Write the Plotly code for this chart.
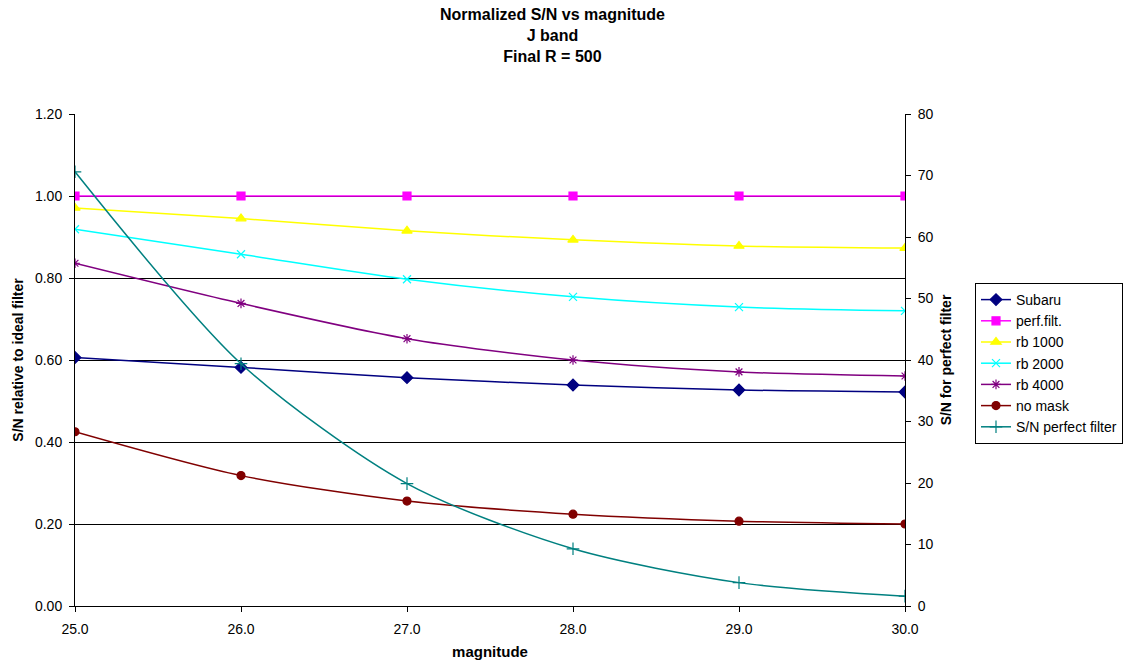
import plotly.graph_objects as go

magnitude = [25.0, 26.0, 27.0, 28.0, 29.0, 30.0]
subaru = [0.606, 0.582, 0.557, 0.539, 0.527, 0.522]
perf_filt = [1.0, 1.0, 1.0, 1.0, 1.0, 1.0]
rb1000 = [0.971, 0.945, 0.915, 0.893, 0.878, 0.873]
rb2000 = [0.919, 0.858, 0.797, 0.754, 0.729, 0.720]
rb4000 = [0.836, 0.738, 0.652, 0.600, 0.571, 0.561]
no_mask = [0.425, 0.318, 0.256, 0.224, 0.207, 0.200]
sn_perfect = [70.6, 39.4, 19.9, 9.3, 3.8, 1.6]

title_lines = ["Normalized S/N vs magnitude", "J band", "Final R = 500"]

FONT = "Liberation Sans, Arial, sans-serif"

series = [
    ("Subaru", subaru, "#000080", "diamond", 9, "y"),
    ("perf.filt.", perf_filt, "#FF00FF", "square", 8, "y"),
    ("rb 1000", rb1000, "#FFFF00", "triangle-up", 9, "y"),
    ("rb 2000", rb2000, "#00FFFF", "x-thin-open", 8, "y"),
    ("rb 4000", rb4000, "#800080", "asterisk-open", 8, "y"),
    ("no mask", no_mask, "#800000", "circle", 8, "y"),
    ("S/N perfect filter", sn_perfect, "#008080", "cross-thin-open", 9, "y2"),
]

fig = go.Figure()
for name, vals, color, sym, size, ax in series:
    fig.add_trace(go.Scatter(
        x=magnitude, y=vals, name=name, yaxis=ax,
        mode="lines+markers",
        line=dict(color=color, width=1.5, shape="spline", smoothing=0.8),
        marker=dict(symbol=sym, size=size, color=color,
                    line=dict(color=color, width=1.2)),
    ))

fig.add_annotation(
    text="<b>" + "<br>".join(title_lines) + "</b>",
    xref="paper", yref="paper", x=(552 - 75) / 830, y=(606 - 4) / 492,
    xanchor="center", yanchor="top", showarrow=False, align="center",
    font=dict(family=FONT, size=16, color="black"),
)

fig.update_layout(
    width=1127, height=668,
    margin=dict(l=75, r=222, t=114, b=62, autoexpand=False),
    paper_bgcolor="white", plot_bgcolor="white",
    font=dict(family=FONT, size=14, color="black"),
    xaxis=dict(
        range=[25, 30], tickvals=magnitude, tickformat=".1f",
        showgrid=False, showline=True, linecolor="black", linewidth=1,
        ticks="outside", ticklen=5, tickcolor="black", zeroline=False,
        ticklabelstandoff=5, automargin=False,
        tickfont=dict(size=14),
        title=dict(text="<b>magnitude</b>", font=dict(size=15), standoff=10),
    ),
    yaxis=dict(
        range=[0, 1.2], dtick=0.2, tickformat=".2f",
        showgrid=True, gridcolor="black", gridwidth=1,
        showline=True, linecolor="black", linewidth=1,
        ticks="outside", ticklen=5, tickcolor="black", zeroline=False,
        ticklabelstandoff=4, automargin=False,
        tickfont=dict(size=14),
        title=dict(text="<b>S/N relative to ideal filter</b>", font=dict(size=14), standoff=8),
    ),
    yaxis2=dict(
        range=[0, 80], dtick=10, overlaying="y", side="right",
        showgrid=False, showline=True, linecolor="black", linewidth=1,
        ticks="outside", ticklen=5, tickcolor="black", zeroline=False,
        ticklabelstandoff=4, automargin=False,
        tickfont=dict(size=14),
        title=dict(text="<b>S/N for perfect filter</b>", font=dict(size=14), standoff=8),
    ),
    legend=dict(
        xref="container", yref="container",
        x=975 / 1127, xanchor="left", y=1 - 283 / 668, yanchor="top",
        bgcolor="white", bordercolor="black", borderwidth=1,
        font=dict(family=FONT, size=14, color="black"),
        tracegroupgap=0, itemwidth=30,
    ),
    showlegend=True,
)

fig.write_html("out.html")
